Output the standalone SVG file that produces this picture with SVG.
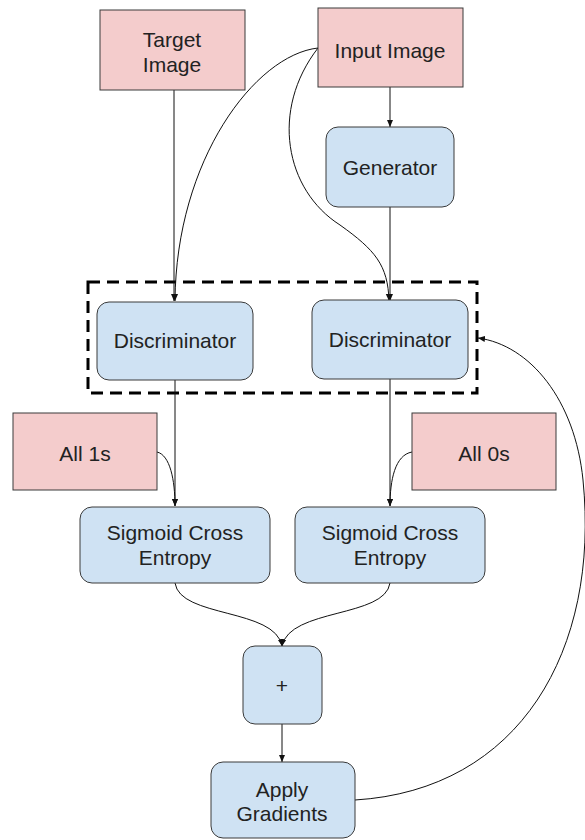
<svg xmlns="http://www.w3.org/2000/svg" width="585" height="840" viewBox="0 0 585 840">
<style>
.pink{fill:#f4cccc;stroke:#3a3a3a;stroke-width:1}
.blue{fill:#cfe2f3;stroke:#3a3a3a;stroke-width:1}
.t{font-family:"Liberation Sans",Arial,sans-serif;font-size:21px;fill:#222;text-anchor:middle}
.c{fill:none;stroke:#111;stroke-width:1}
.dash{fill:none;stroke:#000;stroke-width:3;stroke-dasharray:12 7}
</style>
<defs>
<marker id="ah" markerWidth="8" markerHeight="8" refX="7" refY="4" orient="auto" markerUnits="userSpaceOnUse">
<path d="M0,1 L7,4 L0,7 Z" fill="#111"/>
</marker>
</defs>
<rect fill="#fff" width="585" height="840"/>
<g id="group-box"><rect class="dash" x="88" y="282" width="389" height="111"/></g>
<g id="connectors">
<path class="c" d="M174,90 L174,301" marker-end="url(#ah)"/>
<path class="c" d="M390,87 L390,127" marker-end="url(#ah)"/>
<path class="c" d="M390,206 L390,301" marker-end="url(#ah)"/>
<path class="c" d="M318,48 C255,55 176,160 175,301" marker-end="url(#ah)"/>
<path class="c" d="M318,48 C270,110 285,190 340,225 C375,250 388,265 389,301" marker-end="url(#ah)"/>
<path class="c" d="M175,380 L175,506" marker-end="url(#ah)"/>
<path class="c" d="M390,379 L390,506" marker-end="url(#ah)"/>
<path class="c" d="M157,452 C170,455 175,480 175,506" marker-end="url(#ah)"/>
<path class="c" d="M412,452 C395,455 390,480 390,506" marker-end="url(#ah)"/>
<path class="c" d="M175,583 C180,618 275,608 282,646" marker-end="url(#ah)"/>
<path class="c" d="M390,583 C385,618 290,608 282,646" marker-end="url(#ah)"/>
<path class="c" d="M282,724 L282,762" marker-end="url(#ah)"/>
<path class="c" d="M355,800 C520,790 600,650 583,480 C575,400 530,345 478,338" marker-end="url(#ah)"/>
</g>
<g id="target-image"><rect class="pink" x="100" y="10" width="145" height="80"/><text class="t" x="172" y="47">Target</text><text class="t" x="172" y="72">Image</text></g>
<g id="input-image"><rect class="pink" x="318" y="8" width="145" height="79"/><text class="t" x="390" y="58">Input Image</text></g>
<g id="generator"><rect class="blue" x="326" y="127" width="128" height="80" rx="12"/><text class="t" x="390" y="175">Generator</text></g>
<g id="discriminator-1"><rect class="blue" x="97" y="302" width="156" height="78" rx="12"/><text class="t" x="175" y="348">Discriminator</text></g>
<g id="discriminator-2"><rect class="blue" x="312" y="300" width="156" height="79" rx="12"/><text class="t" x="390" y="347">Discriminator</text></g>
<g id="all-1s"><rect class="pink" x="13" y="413" width="144" height="77"/><text class="t" x="85" y="461">All 1s</text></g>
<g id="all-0s"><rect class="pink" x="412" y="413" width="144" height="77"/><text class="t" x="484" y="461">All 0s</text></g>
<g id="sce-1"><rect class="blue" x="80" y="507" width="190" height="76" rx="12"/><text class="t" x="175" y="540">Sigmoid Cross</text><text class="t" x="175" y="565">Entropy</text></g>
<g id="sce-2"><rect class="blue" x="295" y="507" width="190" height="76" rx="12"/><text class="t" x="390" y="540">Sigmoid Cross</text><text class="t" x="390" y="565">Entropy</text></g>
<g id="plus"><rect class="blue" x="243" y="646" width="79" height="78" rx="12"/><text class="t" x="282" y="693">+</text></g>
<g id="apply-gradients"><rect class="blue" x="211" y="762" width="144" height="76" rx="12"/><text class="t" x="282" y="797">Apply</text><text class="t" x="282" y="821">Gradients</text></g>
</svg>
